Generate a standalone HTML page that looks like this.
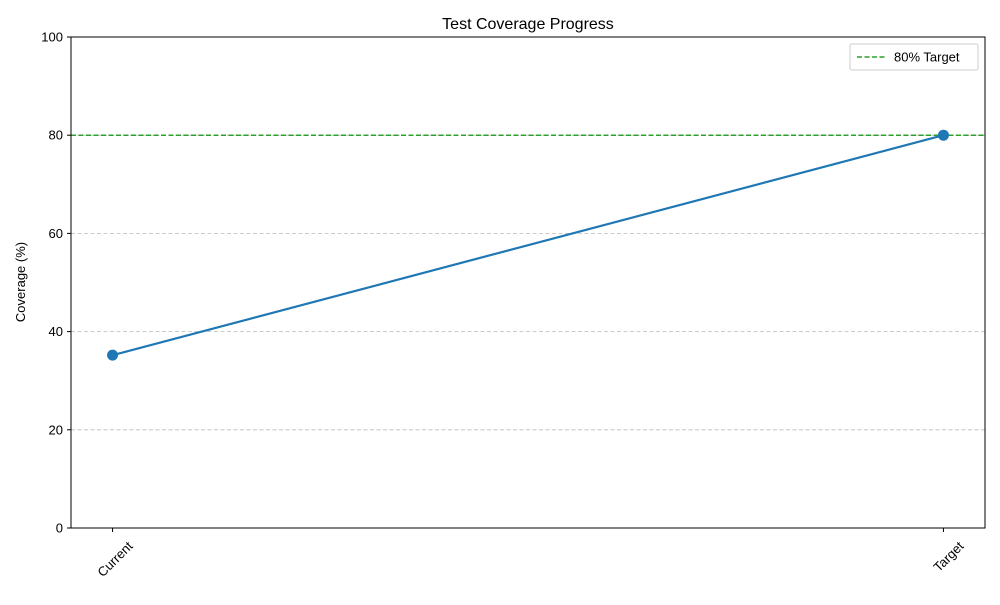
<!DOCTYPE html>
<html><head><meta charset="utf-8"><style>
body{margin:0;background:#fff;font-family:"Liberation Sans",sans-serif;}
svg text{font-family:"Liberation Sans",sans-serif;}
</style></head><body>
<svg id="chart" width="1000" height="600" xmlns="http://www.w3.org/2000/svg">
<rect width="1000" height="600" fill="#fff"/>
<text x="528" y="29" font-size="16" text-anchor="middle">Test Coverage Progress</text>
<g id="grid"></g>
<g id="ticks"></g>
<g id="series"></g>
<rect x="71" y="37" width="914" height="491" fill="none" stroke="#000" stroke-width="1"/>
<text transform="translate(25,282) rotate(-90)" font-size="13" text-anchor="middle">Coverage (%)</text>
<g>
<rect x="850" y="44" width="128" height="26" rx="2" fill="#fff" stroke="#ccc"/>
<line x1="857" y1="57" x2="885" y2="57" stroke="#2ca02c" stroke-width="1.5" stroke-dasharray="5,2.5"/>
<text x="894" y="61.5" font-size="13">80% Target</text>
</g>
</svg>
<script>
const categories = ["Current", "Target"];
const coverageValues = [35.2, 80];
const yTicks = [0, 20, 40, 60, 80, 100];
const targetValue = 80;

const L=71,R=985,T=37,B=528;
const ns="http://www.w3.org/2000/svg";
function y(v){return B-(v/100)*(B-T);}
function x(i){const n=categories.length;const lo=-0.05,hi=(n-1)+0.05;return L+(i-lo)/(hi-lo)*(R-L);}
function mk(tag,attrs,parent){const e=document.createElementNS(ns,tag);for(const k in attrs)e.setAttribute(k,attrs[k]);parent.appendChild(e);return e;}
const grid=document.getElementById('grid'),ticks=document.getElementById('ticks'),series=document.getElementById('series');
yTicks.forEach(v=>{
  if(v>0&&v<100){const g=mk('line',{x1:L,x2:R,y1:y(v),y2:y(v),stroke:'#a0a0a0','stroke-width':0.8,'stroke-dasharray':'4,2.5','stroke-opacity':0.7},grid);
  
  }
  const t=mk('line',{x1:L-4,x2:L,y1:y(v),y2:y(v),stroke:'#000'},ticks);
  
  
  const l=mk('text',{x:L-8,y:y(v)+4.5,'font-size':13,'text-anchor':'end'},ticks);
  l.textContent=v;
  
  
});
categories.forEach((c,i)=>{
  const t=mk('line',{x1:x(i),x2:x(i),y1:B,y2:B+4,stroke:'#000'},ticks);
  
  
  const l=mk('text',{transform:`translate(${x(i)+21},${B+19}) rotate(-45)`,'font-size':13,'text-anchor':'end'},ticks);
  l.textContent=c;
  
  
});
const tl=mk('line',{x1:L,x2:R,y1:y(targetValue),y2:y(targetValue),stroke:'#2ca02c','stroke-width':1.5,'stroke-dasharray':'5,2.5'},series);


const pl=mk('polyline',{points:coverageValues.map((v,i)=>x(i)+','+y(v)).join(' '),fill:'none',stroke:'#1f77b4','stroke-width':2.2},series);


coverageValues.forEach((v,i)=>{
  const c=mk('circle',{cx:x(i),cy:y(v),r:5.5,fill:'#1f77b4'},series);
  
  
});
</script>
</body></html>
